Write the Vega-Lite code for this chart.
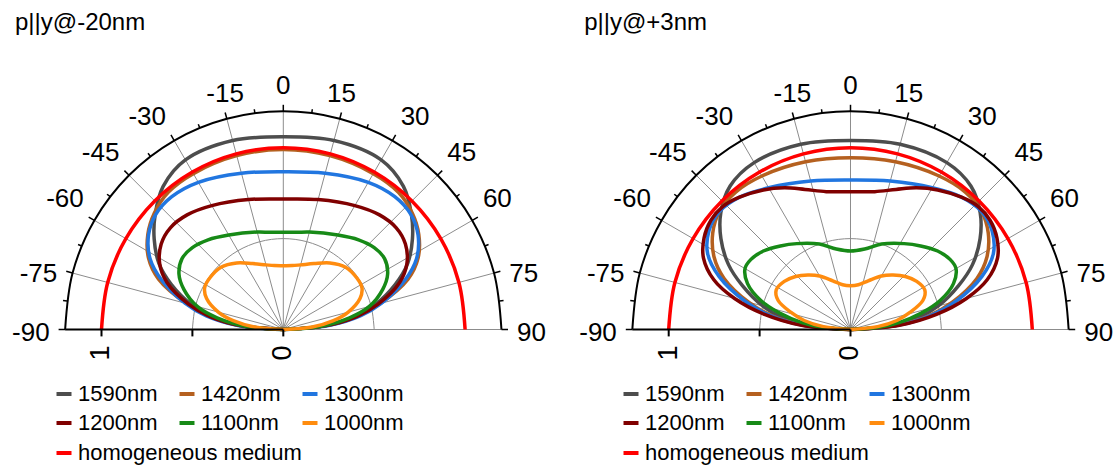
{
  "$schema": "https://vega.github.io/schema/vega-lite/v6.json",
  "padding": 0,
  "spacing": 0,
  "background": "white",
  "config": {
    "view": {"stroke": null},
    "font": "Liberation Sans",
    "text": {"font": "Liberation Sans", "color": "black"},
    "legend": {"title": null, "orient": "none", "symbolType": "stroke", "symbolStrokeWidth": 4, "symbolSize": 225, "labelFontSize": 22, "labelFont": "Liberation Sans", "labelColor": "black", "labelLimit": 400, "columnPadding": 13, "rowPadding": 7, "labelOffset": 3, "padding": 0}
  },
  "datasets": {
    "curves": [
      {"panel": "L", "series": "1590nm", "a": [-90,-85,-80,-75,-68,-62,-55,-48,-40,-30,-15,0,15,30,40,48,55,62,68,75,80,85,90], "r": [0,0.23,0.395,0.52,0.665,0.775,0.867,0.948,1.028,1.077,1.076,1.06,1.076,1.077,1.028,0.948,0.867,0.775,0.665,0.52,0.395,0.23,0]},
      {"panel": "L", "series": "1420nm", "a": [-90,-85,-80,-75,-68,-62,-55,-48,-40,-30,-15,0,15,30,40,48,55,62,68,75,80,85,90], "r": [0,0.23,0.4,0.55,0.74,0.84,0.91,0.955,0.985,0.99,0.99,0.99,0.99,0.99,0.985,0.955,0.91,0.84,0.74,0.55,0.4,0.23,0]},
      {"panel": "L", "series": "1300nm", "a": [-90,-85,-80,-75,-68,-62,-55,-48,-40,-30,-15,0,15,30,40,48,55,62,68,75,80,85,90], "r": [0,0.25,0.43,0.56,0.72,0.83,0.905,0.945,0.954,0.935,0.89,0.868,0.89,0.935,0.954,0.945,0.905,0.83,0.72,0.56,0.43,0.25,0]},
      {"panel": "L", "series": "1200nm", "a": [-90,-85,-80,-75,-68,-62,-55,-48,-40,-30,-15,0,15,30,40,48,55,62,68,75,80,85,90], "r": [0,0.23,0.41,0.54,0.69,0.77,0.82,0.836,0.823,0.787,0.74,0.718,0.74,0.787,0.823,0.836,0.82,0.77,0.69,0.54,0.41,0.23,0]},
      {"panel": "L", "series": "1100nm", "a": [-90,-85,-80,-75,-68,-62,-55,-48,-40,-30,-15,-8,0,8,15,30,40,48,55,62,68,75,80,85,90], "r": [0,0.21,0.37,0.49,0.59,0.65,0.68,0.673,0.644,0.6,0.555,0.54,0.535,0.54,0.555,0.6,0.644,0.673,0.68,0.65,0.59,0.49,0.37,0.21,0]},
      {"panel": "L", "series": "1000nm", "a": [-90,-85,-80,-75,-68,-62,-55,-45,-35,-25,-15,-8,0,8,15,25,35,45,55,62,68,75,80,85,90], "r": [0,0.16,0.28,0.37,0.455,0.49,0.494,0.485,0.447,0.4,0.368,0.355,0.351,0.355,0.368,0.4,0.447,0.485,0.494,0.49,0.455,0.37,0.28,0.16,0]},
      {"panel": "L", "series": "homogeneous medium", "a": [-90,-75,-60,-45,-30,-15,0,15,30,45,60,75,90], "r": [1,1,1,1,1,1,1,1,1,1,1,1,1]},
      {"panel": "R", "series": "1590nm", "a": [-90,-85,-80,-75,-68,-62,-55,-48,-40,-30,-15,0,15,30,40,48,55,62,68,75,80,85,90], "r": [0,0.21,0.38,0.5,0.64,0.76,0.87,0.96,1.03,1.06,1.055,1.04,1.055,1.06,1.03,0.96,0.87,0.76,0.64,0.5,0.38,0.21,0]},
      {"panel": "R", "series": "1420nm", "a": [-90,-85,-80,-75,-68,-62,-55,-48,-40,-30,-15,0,15,30,40,48,55,62,68,75,80,85,90], "r": [0,0.25,0.44,0.58,0.75,0.85,0.925,0.97,0.985,0.975,0.955,0.945,0.955,0.975,0.985,0.97,0.925,0.85,0.75,0.58,0.44,0.25,0]},
      {"panel": "R", "series": "1300nm", "a": [-90,-85,-80,-75,-68,-62,-55,-48,-40,-30,-15,0,15,30,40,48,55,62,68,75,80,85,90], "r": [0,0.26,0.45,0.6,0.78,0.89,0.95,0.97,0.95,0.9,0.845,0.822,0.845,0.9,0.95,0.97,0.95,0.89,0.78,0.6,0.45,0.26,0]},
      {"panel": "R", "series": "1200nm", "a": [-90,-85,-80,-75,-70,-64,-58,-52,-46,-40,-32,-25,-18,-10,0,10,18,25,32,40,46,52,58,64,70,75,80,85,90], "r": [0,0.27,0.48,0.66,0.8,0.9,0.95,0.975,0.975,0.95,0.905,0.86,0.81,0.77,0.758,0.77,0.81,0.86,0.905,0.95,0.975,0.975,0.95,0.9,0.8,0.66,0.48,0.27,0]},
      {"panel": "R", "series": "1100nm", "a": [-90,-86,-82,-77,-72,-66,-60,-55,-48,-40,-32,-20,-10,0,10,20,32,40,48,55,60,66,72,77,82,86,90], "r": [0,0.15,0.27,0.4,0.52,0.62,0.67,0.67,0.645,0.6,0.557,0.5,0.45,0.432,0.45,0.5,0.557,0.6,0.645,0.67,0.67,0.62,0.52,0.4,0.27,0.15,0]},
      {"panel": "R", "series": "1000nm", "a": [-90,-84,-79,-74,-68,-62,-54,-46,-38,-30,-20,-10,0,10,20,30,38,46,54,62,68,74,79,84,90], "r": [0,0.15,0.26,0.34,0.43,0.463,0.45,0.42,0.38,0.34,0.285,0.25,0.241,0.25,0.285,0.34,0.38,0.42,0.45,0.463,0.43,0.34,0.26,0.15,0]},
      {"panel": "R", "series": "homogeneous medium", "a": [-90,-75,-60,-45,-30,-15,0,15,30,45,60,75,90], "r": [1,1,1,1,1,1,1,1,1,1,1,1,1]}
    ],
    "rings": [
      {"kind": "grid", "r": 0.5, "a": [-90,-75,-60,-45,-30,-15,0,15,30,45,60,75,90]},
      {"kind": "frame", "r": 1.2, "a": [-90,-75,-60,-45,-30,-15,0,15,30,45,60,75,90]}
    ],
    "spokes": [{"a": -90},{"a": -75},{"a": -60},{"a": -45},{"a": -30},{"a": -15},{"a": 0},{"a": 15},{"a": 30},{"a": 45},{"a": 60},{"a": 75},{"a": 90}],
    "ticks": [{"a": -90},{"a": -82.5},{"a": -75},{"a": -67.5},{"a": -60},{"a": -52.5},{"a": -45},{"a": -37.5},{"a": -30},{"a": -22.5},{"a": -15},{"a": -7.5},{"a": 0},{"a": 7.5},{"a": 15},{"a": 22.5},{"a": 30},{"a": 37.5},{"a": 45},{"a": 52.5},{"a": 60},{"a": 67.5},{"a": 75},{"a": 82.5},{"a": 90}],
    "radial": [{"v": 0}, {"v": 0.5}, {"v": 1}],
    "titles": [{"panel": "L", "text": "p||y@-20nm"}, {"panel": "R", "text": "p||y@+3nm"}]
  },
  "resolve": {"scale": {"color": "independent"}, "legend": {"color": "independent"}},
  "hconcat": [
    {
      "width": 567,
      "height": 467,
      "encoding": {
        "x": {"field": "px", "type": "quantitative", "scale": {"domain": [-1.5583, 1.5605], "nice": false, "zero": false}, "axis": null},
        "y": {"field": "py", "type": "quantitative", "scale": {"domain": [-0.7563, 1.8124], "nice": false, "zero": false}, "axis": null}
      },
      "resolve": {"scale": {"color": "independent"}, "legend": {"color": "independent"}},
      "layer": [
        {
          "data": {"name": "rings"},
          "transform": [{"filter": "datum.kind === 'grid'"}, {"flatten": ["a"]}, {"calculate": "datum.r*sin(datum.a*PI/180)", "as": "px"}, {"calculate": "datum.r*cos(datum.a*PI/180)", "as": "py"}],
          "mark": {"type": "line", "interpolate": "catmull-rom", "stroke": "#8c8c8c", "strokeWidth": 1},
          "encoding": {"order": {"field": "a", "type": "quantitative"}}
        },
        {
          "data": {"name": "spokes"},
          "transform": [{"filter": "datum.a > -90"}, {"calculate": "0", "as": "px"}, {"calculate": "0", "as": "py"}, {"calculate": "1.2*sin(datum.a*PI/180)", "as": "px2"}, {"calculate": "1.2*cos(datum.a*PI/180)", "as": "py2"}],
          "mark": {"type": "rule", "stroke": "#8c8c8c", "strokeWidth": 1},
          "encoding": {"x2": {"field": "px2"}, "y2": {"field": "py2"}}
        },
        {
          "data": {"name": "curves"},
          "transform": [{"filter": "datum.panel === 'L' && datum.series !== 'homogeneous medium'"}, {"flatten": ["a", "r"]}, {"calculate": "datum.r*sin(datum.a*PI/180)", "as": "px"}, {"calculate": "datum.r*cos(datum.a*PI/180)", "as": "py"}],
          "mark": {"type": "line", "interpolate": "catmull-rom", "strokeWidth": 3.5, "strokeJoin": "round"},
          "encoding": {
            "order": {"field": "a", "type": "quantitative"},
            "color": {
              "field": "series", "type": "nominal",
              "scale": {"domain": ["1590nm", "1420nm", "1300nm", "1200nm", "1100nm", "1000nm"], "range": ["#4d4d4d", "#b5601f", "#2176e0", "#800000", "#178a17", "#ff8c0f"]},
              "legend": {"legendX": 53, "legendY": 383, "columns": 3, "direction": "horizontal"}
            }
          }
        },
        {
          "data": {"name": "curves"},
          "transform": [{"filter": "datum.panel === 'L' && datum.series === 'homogeneous medium'"}, {"flatten": ["a", "r"]}, {"calculate": "datum.r*sin(datum.a*PI/180)", "as": "px"}, {"calculate": "datum.r*cos(datum.a*PI/180)", "as": "py"}],
          "mark": {"type": "line", "interpolate": "catmull-rom", "strokeWidth": 3.5, "strokeJoin": "round"},
          "encoding": {
            "order": {"field": "a", "type": "quantitative"},
            "color": {
              "field": "series", "type": "nominal",
              "scale": {"domain": ["homogeneous medium"], "range": ["#ff0000"]},
              "legend": {"legendX": 53, "legendY": 442}
            }
          }
        },
        {
          "data": {"name": "rings"},
          "transform": [{"filter": "datum.kind === 'frame'"}, {"flatten": ["a"]}, {"calculate": "datum.r*sin(datum.a*PI/180)", "as": "px"}, {"calculate": "datum.r*cos(datum.a*PI/180)", "as": "py"}],
          "mark": {"type": "line", "interpolate": "catmull-rom", "stroke": "black", "strokeWidth": 2},
          "encoding": {"order": {"field": "a", "type": "quantitative"}}
        },
        {
          "data": {"name": "spokes"},
          "transform": [{"filter": "datum.a === -90"}, {"calculate": "-1.2", "as": "px"}, {"calculate": "0", "as": "py"}, {"calculate": "0", "as": "px2"}, {"calculate": "0", "as": "py2"}],
          "mark": {"type": "rule", "stroke": "black", "strokeWidth": 2},
          "encoding": {"x2": {"field": "px2"}, "y2": {"field": "py2"}}
        },
        {
          "data": {"name": "ticks"},
          "transform": [{"calculate": "datum.a % 15 === 0 ? 1.236 : 1.222", "as": "len"}, {"calculate": "1.2*sin(datum.a*PI/180)", "as": "px"}, {"calculate": "1.2*cos(datum.a*PI/180)", "as": "py"}, {"calculate": "datum.len*sin(datum.a*PI/180)", "as": "px2"}, {"calculate": "datum.len*cos(datum.a*PI/180)", "as": "py2"}],
          "mark": {"type": "rule", "stroke": "black", "strokeWidth": 1.5},
          "encoding": {"x2": {"field": "px2"}, "y2": {"field": "py2"}}
        },
        {
          "data": {"name": "ticks"},
          "transform": [
            {"filter": "datum.a % 15 === 0"},
            {"calculate": "'' + datum.a", "as": "lab"},
            {"calculate": "datum.a*PI/180", "as": "t"},
            {"calculate": "(14.46*(length(datum.lab) - (datum.a < 0 ? 1 : 0)) + (datum.a < 0 ? 8.66 : 0))/181.8", "as": "w"},
            {"calculate": "datum.a < 0 ? -1 : 1", "as": "sg"},
            {"calculate": "abs(datum.a) <= 15 ? 1.236*sin(datum.t) : abs(datum.a) <= 60 ? 1.236*sin(datum.t) + datum.sg*(0.0275 + datum.w/2) : 1.236*sin(datum.t) + datum.sg*(0.0495 + datum.w/2)", "as": "px"},
            {"calculate": "abs(datum.a) <= 15 ? 1.236*cos(datum.t) + 0.1034 : abs(datum.a) <= 60 ? 1.236*cos(datum.t) + 0.0979 : 1.236*cos(datum.t) - 0.0165", "as": "py"}
          ],
          "mark": {"type": "text", "fontSize": 26, "align": "center", "baseline": "middle"},
          "encoding": {"text": {"field": "lab"}}
        },
        {
          "data": {"name": "radial"},
          "transform": [{"calculate": "-datum.v", "as": "px"}, {"calculate": "0", "as": "py"}, {"calculate": "-datum.v", "as": "px2"}, {"calculate": "-0.038", "as": "py2"}],
          "mark": {"type": "rule", "stroke": "black", "strokeWidth": 2},
          "encoding": {"x2": {"field": "px2"}, "y2": {"field": "py2"}}
        },
        {
          "data": {"name": "radial"},
          "transform": [{"filter": "datum.v !== 0.5"}, {"calculate": "-datum.v", "as": "px"}, {"calculate": "-0.129", "as": "py"}, {"calculate": "'' + datum.v", "as": "lab"}],
          "mark": {"type": "text", "fontSize": 27, "align": "center", "baseline": "middle", "angle": 270},
          "encoding": {"text": {"field": "lab"}}
        },
        {
          "data": {"name": "titles"},
          "transform": [{"filter": "datum.panel === 'L'"}, {"calculate": "-1.476", "as": "px"}, {"calculate": "1.647", "as": "py"}],
          "mark": {"type": "text", "fontSize": 24, "align": "left", "baseline": "alphabetic"},
          "encoding": {"text": {"field": "text"}}
        }
      ]
    },
    {
      "width": 550,
      "height": 467,
      "encoding": {
        "x": {"field": "px", "type": "quantitative", "scale": {"domain": [-1.5594, 1.4659], "nice": false, "zero": false}, "axis": null},
        "y": {"field": "py", "type": "quantitative", "scale": {"domain": [-0.7563, 1.8124], "nice": false, "zero": false}, "axis": null}
      },
      "resolve": {"scale": {"color": "independent"}, "legend": {"color": "independent"}},
      "layer": [
        {
          "data": {"name": "rings"},
          "transform": [{"filter": "datum.kind === 'grid'"}, {"flatten": ["a"]}, {"calculate": "datum.r*sin(datum.a*PI/180)", "as": "px"}, {"calculate": "datum.r*cos(datum.a*PI/180)", "as": "py"}],
          "mark": {"type": "line", "interpolate": "catmull-rom", "stroke": "#8c8c8c", "strokeWidth": 1},
          "encoding": {"order": {"field": "a", "type": "quantitative"}}
        },
        {
          "data": {"name": "spokes"},
          "transform": [{"filter": "datum.a > -90"}, {"calculate": "0", "as": "px"}, {"calculate": "0", "as": "py"}, {"calculate": "1.2*sin(datum.a*PI/180)", "as": "px2"}, {"calculate": "1.2*cos(datum.a*PI/180)", "as": "py2"}],
          "mark": {"type": "rule", "stroke": "#8c8c8c", "strokeWidth": 1},
          "encoding": {"x2": {"field": "px2"}, "y2": {"field": "py2"}}
        },
        {
          "data": {"name": "curves"},
          "transform": [{"filter": "datum.panel === 'R' && datum.series !== 'homogeneous medium'"}, {"flatten": ["a", "r"]}, {"calculate": "datum.r*sin(datum.a*PI/180)", "as": "px"}, {"calculate": "datum.r*cos(datum.a*PI/180)", "as": "py"}],
          "mark": {"type": "line", "interpolate": "catmull-rom", "strokeWidth": 3.5, "strokeJoin": "round"},
          "encoding": {
            "order": {"field": "a", "type": "quantitative"},
            "color": {
              "field": "series", "type": "nominal",
              "scale": {"domain": ["1590nm", "1420nm", "1300nm", "1200nm", "1100nm", "1000nm"], "range": ["#4d4d4d", "#b5601f", "#2176e0", "#800000", "#178a17", "#ff8c0f"]},
              "legend": {"legendX": 53, "legendY": 383, "columns": 3, "direction": "horizontal"}
            }
          }
        },
        {
          "data": {"name": "curves"},
          "transform": [{"filter": "datum.panel === 'R' && datum.series === 'homogeneous medium'"}, {"flatten": ["a", "r"]}, {"calculate": "datum.r*sin(datum.a*PI/180)", "as": "px"}, {"calculate": "datum.r*cos(datum.a*PI/180)", "as": "py"}],
          "mark": {"type": "line", "interpolate": "catmull-rom", "strokeWidth": 3.5, "strokeJoin": "round"},
          "encoding": {
            "order": {"field": "a", "type": "quantitative"},
            "color": {
              "field": "series", "type": "nominal",
              "scale": {"domain": ["homogeneous medium"], "range": ["#ff0000"]},
              "legend": {"legendX": 53, "legendY": 442}
            }
          }
        },
        {
          "data": {"name": "rings"},
          "transform": [{"filter": "datum.kind === 'frame'"}, {"flatten": ["a"]}, {"calculate": "datum.r*sin(datum.a*PI/180)", "as": "px"}, {"calculate": "datum.r*cos(datum.a*PI/180)", "as": "py"}],
          "mark": {"type": "line", "interpolate": "catmull-rom", "stroke": "black", "strokeWidth": 2},
          "encoding": {"order": {"field": "a", "type": "quantitative"}}
        },
        {
          "data": {"name": "spokes"},
          "transform": [{"filter": "datum.a === -90"}, {"calculate": "-1.2", "as": "px"}, {"calculate": "0", "as": "py"}, {"calculate": "0", "as": "px2"}, {"calculate": "0", "as": "py2"}],
          "mark": {"type": "rule", "stroke": "black", "strokeWidth": 2},
          "encoding": {"x2": {"field": "px2"}, "y2": {"field": "py2"}}
        },
        {
          "data": {"name": "ticks"},
          "transform": [{"calculate": "datum.a % 15 === 0 ? 1.236 : 1.222", "as": "len"}, {"calculate": "1.2*sin(datum.a*PI/180)", "as": "px"}, {"calculate": "1.2*cos(datum.a*PI/180)", "as": "py"}, {"calculate": "datum.len*sin(datum.a*PI/180)", "as": "px2"}, {"calculate": "datum.len*cos(datum.a*PI/180)", "as": "py2"}],
          "mark": {"type": "rule", "stroke": "black", "strokeWidth": 1.5},
          "encoding": {"x2": {"field": "px2"}, "y2": {"field": "py2"}}
        },
        {
          "data": {"name": "ticks"},
          "transform": [
            {"filter": "datum.a % 15 === 0"},
            {"calculate": "'' + datum.a", "as": "lab"},
            {"calculate": "datum.a*PI/180", "as": "t"},
            {"calculate": "(14.46*(length(datum.lab) - (datum.a < 0 ? 1 : 0)) + (datum.a < 0 ? 8.66 : 0))/181.8", "as": "w"},
            {"calculate": "datum.a < 0 ? -1 : 1", "as": "sg"},
            {"calculate": "abs(datum.a) <= 15 ? 1.236*sin(datum.t) : abs(datum.a) <= 60 ? 1.236*sin(datum.t) + datum.sg*(0.0275 + datum.w/2) : 1.236*sin(datum.t) + datum.sg*(0.0495 + datum.w/2)", "as": "px"},
            {"calculate": "abs(datum.a) <= 15 ? 1.236*cos(datum.t) + 0.1034 : abs(datum.a) <= 60 ? 1.236*cos(datum.t) + 0.0979 : 1.236*cos(datum.t) - 0.0165", "as": "py"}
          ],
          "mark": {"type": "text", "fontSize": 26, "align": "center", "baseline": "middle"},
          "encoding": {"text": {"field": "lab"}}
        },
        {
          "data": {"name": "radial"},
          "transform": [{"calculate": "-datum.v", "as": "px"}, {"calculate": "0", "as": "py"}, {"calculate": "-datum.v", "as": "px2"}, {"calculate": "-0.038", "as": "py2"}],
          "mark": {"type": "rule", "stroke": "black", "strokeWidth": 2},
          "encoding": {"x2": {"field": "px2"}, "y2": {"field": "py2"}}
        },
        {
          "data": {"name": "radial"},
          "transform": [{"filter": "datum.v !== 0.5"}, {"calculate": "-datum.v", "as": "px"}, {"calculate": "-0.129", "as": "py"}, {"calculate": "'' + datum.v", "as": "lab"}],
          "mark": {"type": "text", "fontSize": 27, "align": "center", "baseline": "middle", "angle": 270},
          "encoding": {"text": {"field": "lab"}}
        },
        {
          "data": {"name": "titles"},
          "transform": [{"filter": "datum.panel === 'R'"}, {"calculate": "-1.465", "as": "px"}, {"calculate": "1.647", "as": "py"}],
          "mark": {"type": "text", "fontSize": 24, "align": "left", "baseline": "alphabetic"},
          "encoding": {"text": {"field": "text"}}
        }
      ]
    }
  ]
}
